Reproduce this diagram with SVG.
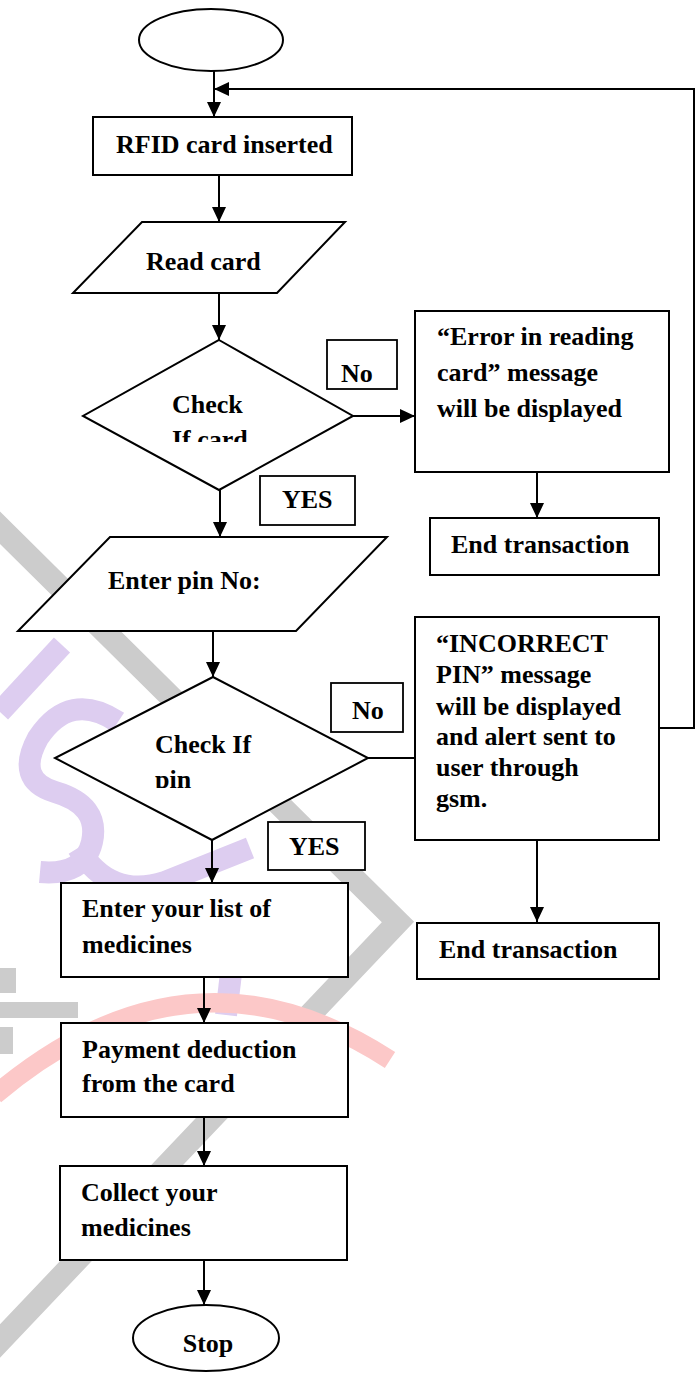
<svg xmlns="http://www.w3.org/2000/svg" width="700" height="1376" viewBox="0 0 700 1376">
<style>
.shape{fill:#ffffff;stroke:#000000;stroke-width:2}
.lbl{fill:#ffffff;stroke:#000000;stroke-width:1.8}
.t{font-family:"Liberation Serif","Times New Roman",serif;font-weight:bold;font-size:26px;fill:#000000}
.conn{fill:none;stroke:#000000;stroke-width:2}
.wm-gray{fill:none;stroke:#cccccc;stroke-width:23;stroke-linejoin:miter}
.wm-purple{fill:none;stroke:#ddcdf0;stroke-width:22;stroke-linecap:butt}
.wm-red{fill:none;stroke:#fcc8c8;stroke-width:19}
</style>
<defs>
<marker id="arrow" markerUnits="userSpaceOnUse" markerWidth="15" markerHeight="14" refX="15" refY="7" orient="auto">
<path d="M0,0 L15,7 L0,14 z" fill="#000000"/>
</marker>
<clipPath id="clipD1"><rect x="80" y="330" width="280" height="112"/></clipPath>
<clipPath id="clipD2"><rect x="50" y="670" width="320" height="118"/></clipPath>
</defs>
<rect x="0" y="0" width="700" height="1376" fill="#ffffff"/>
<g id="watermark">
<polyline class="wm-gray" points="-20,508 398,922 -20,1362"/>
<rect x="0" y="968" width="16" height="25" fill="#cccccc"/>
<rect x="0" y="1002" width="78" height="16" fill="#cccccc"/>
<rect x="0" y="1027" width="13" height="27" fill="#cccccc"/>
<path class="wm-purple" d="M62,645 L0,712"/>
<path class="wm-purple" d="M118,722 Q70,690 38,738 Q15,780 55,792 Q100,805 92,842 Q84,876 40,872"/>
<path class="wm-purple" d="M78,848 Q110,900 165,882 Q215,862 250,848"/>
<path class="wm-purple" d="M232,965 L226,1015"/>
<path class="wm-red" d="M-5,1095 Q190,930 390,1060"/>
</g>
<g id="connectors">
<line class="conn" x1="214" y1="71" x2="214" y2="117" marker-end="url(#arrow)"/>
<polyline class="conn" points="659,728 694,728 694,89 214,89" marker-end="url(#arrow)"/>
<line class="conn" x1="219" y1="175" x2="219" y2="222" marker-end="url(#arrow)"/>
<line class="conn" x1="219" y1="293" x2="219" y2="340" marker-end="url(#arrow)"/>
<line class="conn" x1="353" y1="416" x2="415" y2="416" marker-end="url(#arrow)"/>
<line class="conn" x1="537" y1="472" x2="537" y2="518" marker-end="url(#arrow)"/>
<line class="conn" x1="220" y1="490" x2="220" y2="537" marker-end="url(#arrow)"/>
<line class="conn" x1="213" y1="631" x2="213" y2="677" marker-end="url(#arrow)"/>
<line class="conn" x1="368" y1="758" x2="415" y2="758"/>
<line class="conn" x1="537" y1="840" x2="537" y2="922" marker-end="url(#arrow)"/>
<line class="conn" x1="212" y1="840" x2="212" y2="883" marker-end="url(#arrow)"/>
<line class="conn" x1="204" y1="977" x2="204" y2="1023" marker-end="url(#arrow)"/>
<line class="conn" x1="204" y1="1117" x2="204" y2="1166" marker-end="url(#arrow)"/>
<line class="conn" x1="204" y1="1260" x2="204" y2="1305" marker-end="url(#arrow)"/>
</g>
<g id="start">
<ellipse class="shape" cx="211" cy="40" rx="72" ry="31"/>
</g>
<g id="rfid">
<rect class="shape" x="93" y="117" width="259" height="58"/>
<text class="t" x="116" y="153">RFID card inserted</text>
</g>
<g id="read-card">
<polygon class="shape" points="142,222 345,222 277,293 73,293"/>
<text class="t" x="146" y="270">Read card</text>
</g>
<g id="check-card">
<polygon class="shape" points="219,340 353,416 219,490 83,416"/>
<text class="t" x="172" y="413">Check</text>
<text class="t" x="172" y="448" clip-path="url(#clipD1)">If card</text>
</g>
<g id="no-1">
<rect class="lbl" x="327" y="340" width="70" height="49"/>
<text class="t" x="341" y="382">No</text>
</g>
<g id="error-msg">
<rect class="shape" x="415" y="311" width="254" height="161"/>
<text class="t" x="437" y="345">“Error in reading</text>
<text class="t" x="437" y="381">card” message</text>
<text class="t" x="437" y="417">will be displayed</text>
</g>
<g id="end-1">
<rect class="shape" x="430" y="518" width="229" height="57"/>
<text class="t" x="451" y="553">End transaction</text>
</g>
<g id="yes-1">
<rect class="lbl" x="260" y="476" width="95" height="49"/>
<text class="t" x="282" y="508">YES</text>
</g>
<g id="enter-pin">
<polygon class="shape" points="110,537 387,537 296,631 18,631"/>
<text class="t" x="108" y="589">Enter pin No:</text>
</g>
<g id="check-pin">
<polygon class="shape" points="213,677 368,758 212,840 55,758"/>
<text class="t" x="155" y="753">Check If</text>
<text class="t" x="155" y="788" clip-path="url(#clipD2)">pin</text>
</g>
<g id="no-2">
<rect class="lbl" x="331" y="683" width="72" height="49"/>
<text class="t" x="352" y="719">No</text>
</g>
<g id="incorrect-msg">
<rect class="shape" x="415" y="617" width="244" height="223"/>
<text class="t" x="436" y="652">“INCORRECT</text>
<text class="t" x="436" y="683">PIN” message</text>
<text class="t" x="436" y="715">will be displayed</text>
<text class="t" x="436" y="745">and alert sent to</text>
<text class="t" x="436" y="776">user through</text>
<text class="t" x="436" y="807">gsm.</text>
</g>
<g id="end-2">
<rect class="shape" x="417" y="923" width="242" height="56"/>
<text class="t" x="439" y="958">End transaction</text>
</g>
<g id="yes-2">
<rect class="lbl" x="268" y="822" width="97" height="48"/>
<text class="t" x="289" y="855">YES</text>
</g>
<g id="enter-list">
<rect class="shape" x="61" y="883" width="287" height="94"/>
<text class="t" x="82" y="917">Enter your list of</text>
<text class="t" x="82" y="953">medicines</text>
</g>
<g id="payment">
<rect class="shape" x="61" y="1023" width="287" height="94"/>
<text class="t" x="82" y="1058">Payment deduction</text>
<text class="t" x="82" y="1092">from the card</text>
</g>
<g id="collect">
<rect class="shape" x="60" y="1166" width="287" height="94"/>
<text class="t" x="81" y="1201">Collect your</text>
<text class="t" x="81" y="1236">medicines</text>
</g>
<g id="stop">
<ellipse class="shape" cx="206" cy="1338" rx="73" ry="33"/>
<text class="t" x="208" y="1352" text-anchor="middle">Stop</text>
</g>
</svg>
